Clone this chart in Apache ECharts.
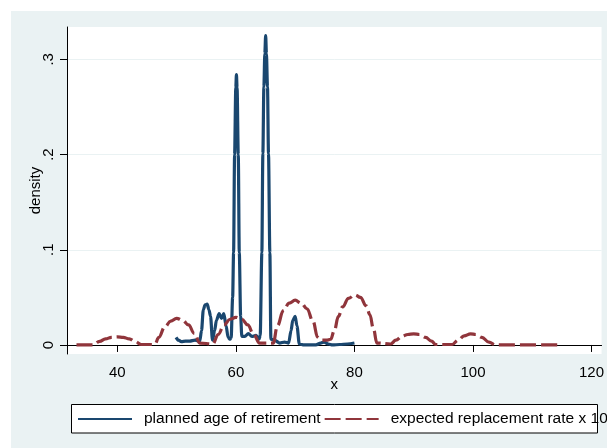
<!DOCTYPE html>
<html><head><meta charset="utf-8">
<script src="https://cdn.jsdelivr.net/npm/echarts@6/dist/echarts.min.js"></script>
<style>html,body{margin:0;padding:0;background:#fff}#c{width:607px;height:448px}</style>
</head><body><div id="c"></div>
<script>
// planned age of retirement (kernel density)
const ageX = [49.9, 50.3, 50.8, 51.5, 52.2, 53.1, 53.9, 54.2, 54.5, 54.8, 55.15, 55.45, 55.72, 56.05, 56.4, 56.72, 57.17, 57.57, 57.96, 58.35, 58.68, 59.0, 59.2, 59.45, 59.61, 59.78, 59.98, 60.09, 60.2, 60.4, 60.57, 60.8, 61.0, 61.5, 62.1, 62.7, 63.4, 63.9, 64.1, 64.38, 64.55, 64.72, 64.88, 65.02, 65.15, 65.33, 65.5, 65.73, 65.9, 66.5, 67.4, 68.2, 68.9, 69.3, 69.6, 70.0, 70.3, 70.7, 71.5, 72.5, 73.5, 74.3, 74.9, 75.6, 76.3, 77.5, 78.8, 80.0];
const ageY = [0.008, 0.005, 0.0035, 0.004, 0.004, 0.005, 0.004, 0.015, 0.037, 0.042, 0.043, 0.037, 0.03, 0.005, 0.015, 0.026, 0.033, 0.028, 0.033, 0.02, 0.008, 0.006, 0.008, 0.05, 0.097, 0.20, 0.27, 0.284, 0.27, 0.20, 0.097, 0.03, 0.009, 0.009, 0.012, 0.009, 0.01, 0.006, 0.01, 0.097, 0.201, 0.271, 0.306, 0.325, 0.306, 0.271, 0.201, 0.097, 0.006, 0.005, 0.002, 0.003, 0.002, 0.015, 0.026, 0.030, 0.02, 0.001, 0.0, 0.0, 0.0, 0.002, 0.003, 0.001, 0.0, 0.0005, 0.001, 0.002];
// expected replacement rate x 100 (kernel density)
const rrX = [33.1, 35.9, 37.0, 38.0, 39.0, 40.0, 41.0, 42.0, 43.0, 44.0, 46.3, 47.0, 48.0, 49.0, 50.0, 51.0, 52.0, 53.0, 53.9, 56.1, 57.0, 58.0, 59.0, 60.0, 61.0, 62.0, 63.0, 64.0, 66.3, 67.0, 68.0, 69.0, 70.0, 71.0, 72.0, 73.0, 73.8, 74.3, 75.3, 76.0, 76.6, 77.3, 78.0, 79.0, 80.1, 81.0, 82.0, 82.6, 83.2, 83.8, 86.1, 87.0, 88.0, 89.0, 90.0, 91.0, 92.0, 93.0, 93.7, 96.5, 97.5, 98.5, 99.6, 100.5, 101.5, 102.7, 103.8, 114.7];
const rrY = [0.0, 0.0, 0.0037, 0.0064, 0.008, 0.0085, 0.008, 0.0064, 0.0037, 0.0005, 0.0005, 0.008, 0.019, 0.025, 0.028, 0.026, 0.021, 0.012, 0.002, 0.001, 0.011, 0.021, 0.027, 0.029, 0.027, 0.021, 0.011, 0.002, 0.002, 0.02, 0.036, 0.044, 0.047, 0.044, 0.038, 0.025, 0.008, 0.005, 0.005, 0.006, 0.015, 0.03, 0.04, 0.049, 0.0526, 0.05, 0.041, 0.032, 0.017, 0.002, 0.001, 0.005, 0.009, 0.011, 0.0116, 0.011, 0.008, 0.004, 0.0005, 0.0005, 0.005, 0.0095, 0.0116, 0.011, 0.008, 0.003, 0.0, 0.0];
const xTicks = [40, 60, 80, 100, 120];
const yTicks = [0, 0.1, 0.2, 0.3];
const yTickLabels = ['0', '.1', '.2', '.3'];
const seriesNames = ['planned age of retirement', 'expected replacement rate x 100'];

const FONT = 'Liberation Sans, Arial, Helvetica, sans-serif';
const chart = echarts.init(document.getElementById('c'), null, {renderer: 'canvas'});
chart.setOption({
  animation: false,
  textStyle: {fontFamily: FONT},
  graphic: {elements: [
    {type: 'rect', z: -10, shape: {x: 11, y: 11, width: 600, height: 440}, style: {fill: '#EAF2F3'}},
    {type: 'rect', z: 1, shape: {x: 71.5, y: 404.5, width: 526, height: 28.5}, style: {fill: '#fff', stroke: '#000', lineWidth: 1}}
  ]},
  grid: {left: 67, right: 4, top: 27, bottom: 94, show: true, backgroundColor: '#fff', borderWidth: 0},
  legend: {
    left: 72, top: 406, width: 900, itemWidth: 54, itemHeight: 16, itemGap: 3, z: 10, selectedMode: false,
    itemStyle: {color: 'rgba(0,0,0,0)', borderColor: 'rgba(0,0,0,0)', borderWidth: 0, opacity: 0},
    textStyle: {fontSize: 15.5, color: '#000', fontFamily: FONT, padding: [0, 0, 0, 7]},
    data: seriesNames
  },
  xAxis: {
    type: 'value', min: 31.5, max: 121.7,
    name: 'x', nameLocation: 'middle', nameGap: 23, nameMoveOverlap: false,
    nameTextStyle: {fontSize: 15, color: '#000', fontFamily: FONT},
    axisLine: {show: true, lineStyle: {color: '#000', width: 1}},
    axisTick: {show: true, length: 7, customValues: xTicks, lineStyle: {color: '#000'}},
    axisLabel: {customValues: xTicks, margin: 11, fontSize: 15, color: '#000', fontFamily: FONT},
    splitLine: {show: false}
  },
  yAxis: {
    type: 'value', min: -0.0095, max: 0.334,
    name: 'density', nameLocation: 'middle', nameGap: 24, nameRotate: 90, nameMoveOverlap: false,
    nameTextStyle: {fontSize: 15, color: '#000', fontFamily: FONT},
    axisLine: {show: true, lineStyle: {color: '#000', width: 1}},
    axisTick: {show: true, length: 7, customValues: yTicks, lineStyle: {color: '#000'}},
    axisLabel: {
      customValues: yTicks, rotate: 90, margin: 11, fontSize: 15, color: '#000', fontFamily: FONT,
      formatter: function (v) {
        let best = 0;
        for (let i = 0; i < yTicks.length; i++) if (Math.abs(yTicks[i] - v) < Math.abs(yTicks[best] - v)) best = i;
        return yTickLabels[best];
      }
    },
    splitLine: {show: true, lineStyle: {color: '#EAF2F3', width: 1}}
  },
  series: [
    {
      name: seriesNames[0], type: 'line', symbol: 'none', smooth: 0.3, smoothMonotone: 'x',
      data: ageX.map((x, i) => [x, ageY[i]]),
      lineStyle: {color: '#1A476F', width: 3.2}, itemStyle: {color: '#1A476F'}, z: 3
    },
    {
      name: seriesNames[1], type: 'line', symbol: 'none', smooth: 0.4, smoothMonotone: 'x',
      data: rrX.map((x, i) => [x, rrY[i]]),
      lineStyle: {color: '#90353B', width: 3.2, type: [16, 5]}, itemStyle: {color: '#90353B'}, z: 4
    }
  ]
});
</script></body></html>
